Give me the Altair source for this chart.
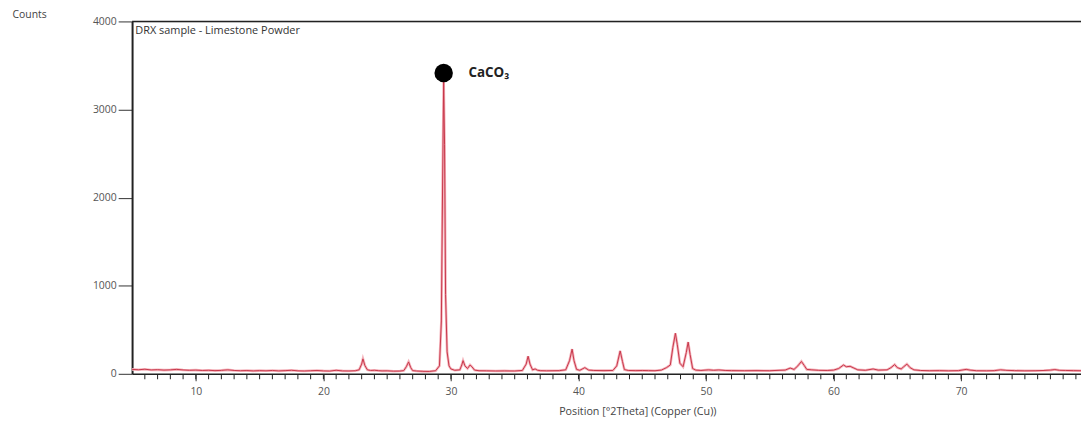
import altair as alt
import pandas as pd

# ---- data ----
two_theta = [5.0, 5.5, 6.0, 6.5, 7.0, 7.5, 8.0, 8.5, 9.0, 9.5, 10.0, 10.5, 11.0, 11.5, 12.0,
             12.5, 13.0, 13.5, 14.0, 14.5, 15.0, 15.5, 16.0, 16.5, 17.0, 17.5, 18.0, 18.5,
             19.0, 19.5, 20.0, 20.5, 21.0, 21.5, 22.0, 22.5, 22.8, 23.0, 23.1, 23.25, 23.45,
             23.7, 24.0, 24.3, 24.6, 25.0, 25.5, 26.0, 26.3, 26.5, 26.68, 26.85, 27.0, 27.3,
             27.8, 28.3, 28.8, 29.1, 29.25, 29.35, 29.43, 29.50, 29.58, 29.70, 29.85, 30.0,
             30.3, 30.7, 30.85, 30.95, 31.1, 31.3, 31.5, 31.65, 31.85, 32.2, 32.8, 33.5, 34.2,
             35.0, 35.6, 35.9, 36.05, 36.2, 36.4, 36.6, 36.8, 37.0, 37.5, 38.0, 38.5, 39.0,
             39.3, 39.5, 39.65, 39.85, 40.1, 40.5, 40.8, 41.2, 42.0, 42.7, 43.0, 43.27, 43.45,
             43.6, 43.9, 44.5, 45.0, 45.5, 46.0, 46.5, 46.9, 47.2, 47.4, 47.6, 47.75, 47.95,
             48.2, 48.45, 48.6, 48.75, 48.95, 49.2, 49.6, 50.2, 50.6, 51.0, 51.5, 52.0, 53.0,
             54.0, 55.0, 55.8, 56.2, 56.6, 56.9, 57.2, 57.48, 57.7, 57.9, 58.3, 58.8, 59.5,
             60.0, 60.4, 60.78, 61.0, 61.3, 61.6, 61.9, 62.5, 63.1, 63.5, 64.2, 64.5, 64.79,
             65.0, 65.3, 65.5, 65.75, 66.0, 66.3, 66.8, 67.5, 68.3, 69.0, 69.8, 70.4, 70.7,
             71.2, 72.0, 72.6, 73.1, 73.5, 74.2, 75.0, 75.8, 76.5, 77.0, 77.35, 77.7, 78.2,
             78.8, 79.4]
counts = [50, 46, 52, 44, 47, 42, 45, 50, 44, 40, 42, 38, 40, 36, 39,
          45, 38, 35, 37, 33, 36, 34, 38, 33, 36, 40, 34, 32,
          35, 38, 33, 31, 40, 33, 32, 35, 45, 110, 170, 95, 45,
          38, 40, 36, 33, 34, 30, 31, 36, 80, 135, 70, 36, 32,
          28, 27, 35, 90, 600, 2200, 3330, 2600, 900, 250, 90, 55,
          40, 45, 100, 150, 90, 60, 100, 80, 42, 35, 34, 32, 33,
          32, 38, 110, 200, 110, 45, 55, 40, 36, 34, 35, 36, 45,
          150, 280, 150, 50, 40, 70, 42, 38, 36, 38, 90, 260, 140,
          48, 38, 36, 38, 36, 35, 42, 70, 100, 300, 460, 330, 120,
          80, 240, 360, 220, 60, 42, 38, 45, 40, 44, 38, 36, 35,
          36, 35, 40, 42, 65, 50, 90, 140, 95, 50, 45, 40, 38,
          42, 60, 100, 80, 85, 65, 45, 40, 55, 42, 45, 70, 105,
          70, 55, 80, 110, 70, 45, 38, 35, 36, 34, 36, 50, 42,
          35, 34, 36, 45, 40, 36, 34, 35, 38, 42, 48, 40, 38,
          36, 35]

minor_x_ticks = list(range(6, 80))
major_x_ticks = [10, 20, 30, 40, 50, 60, 70]
y_ticks = [0, 1000, 2000, 3000, 4000]
x_range = [5, 79.4]
y_range = [0, 4000]

sample_name = ["DRX sample - Limestone Powder"]
sample_x = [5.25]
sample_y = [3890]

phase_name = ["CaCO₃"]
phase_x = [29.43]
phase_y = [3414]
phase_label_x = [31.37]

FONT = "Open Sans"
W, H = 956, 355

df = pd.DataFrame({"x": two_theta, "y": counts})
xs = alt.Scale(domain=x_range, nice=False, zero=False)
ys = alt.Scale(domain=y_range, nice=False)

x_axis = alt.Axis(
    values=major_x_ticks, format="d", labelOverlap=False, labelFlush=False,
    tickSize=7, grid=False, domainColor="#222", domainWidth=1.5, tickColor="#333",
    labelFont=FONT, labelFontSize=10.5, labelColor="#555", labelPadding=6,
    title="Position [°2Theta] (Copper (Cu))", titleFont=FONT, titleFontSize=10.8,
    titleFontWeight="normal", titleColor="#444", titleX=509, titleY=38,
    titleBaseline="middle",
)
y_axis = alt.Axis(
    values=y_ticks, format="d", grid=False, domainColor="#222", domainWidth=2,
    tickColor="#333", tickSize=14, labelPadding=2,
    labelFont=FONT, labelFontSize=10.5, labelColor="#555",
    title="Counts", titleFont=FONT, titleFontSize=10.5, titleFontWeight="normal",
    titleColor="#444", titleAngle=0, titleAlign="left", titleBaseline="middle",
    titleX=-121, titleY=-7,
)

glow = alt.Chart(df).mark_line(color="#f4b3bb", strokeWidth=2.6).encode(
    x=alt.X("x:Q", scale=xs, axis=x_axis),
    y=alt.Y("y:Q", scale=ys, axis=y_axis),
)
line = alt.Chart(df).mark_line(color="#c8374b", strokeWidth=1).encode(
    x=alt.X("x:Q", scale=xs), y=alt.Y("y:Q", scale=ys)
)

minor_df = pd.DataFrame({"t": minor_x_ticks, "z": [y_range[0]] * len(minor_x_ticks)})
minor = alt.Chart(minor_df).mark_tick(
    color="#222", orient="vertical", size=5, thickness=1, yOffset=3, opacity=1
).encode(x=alt.X("t:Q", scale=xs), y=alt.Y("z:Q", scale=ys))

top = alt.Chart(pd.DataFrame({"a": [x_range[0]], "b": [x_range[1]], "c": [y_range[1]]})).mark_rule(
    color="#222", strokeWidth=1.5
).encode(x=alt.X("a:Q", scale=xs), x2="b:Q", y=alt.Y("c:Q", scale=ys))

sample = alt.Chart(pd.DataFrame({"x": sample_x, "y": sample_y, "t": sample_name})).mark_text(
    align="left", baseline="middle", font=FONT, fontSize=11, color="#333"
).encode(x=alt.X("x:Q", scale=xs), y=alt.Y("y:Q", scale=ys), text="t:N")

pdf = pd.DataFrame({"x": phase_x, "lx": phase_label_x, "y": phase_y, "t": phase_name})
dot = alt.Chart(pdf).mark_point(filled=True, shape="circle", size=346, color="#000", opacity=1).encode(
    x=alt.X("x:Q", scale=xs), y=alt.Y("y:Q", scale=ys)
)
lab = alt.Chart(pdf).mark_text(
    align="left", baseline="middle", font=FONT, fontSize=13.5, fontWeight="bold", color="#222"
).encode(x=alt.X("lx:Q", scale=xs), y=alt.Y("y:Q", scale=ys), text="t:N")

chart = alt.layer(glow, line, minor, top, sample, dot, lab).properties(
    width=W, height=H,
    autosize=alt.AutoSizeParams(type="none"),
    padding={"left": 125, "top": 12, "right": 0, "bottom": 45},
).configure_view(stroke=None).configure(background="white")

chart.save("out.html", embed_options={"renderer": "svg", "actions": False})
